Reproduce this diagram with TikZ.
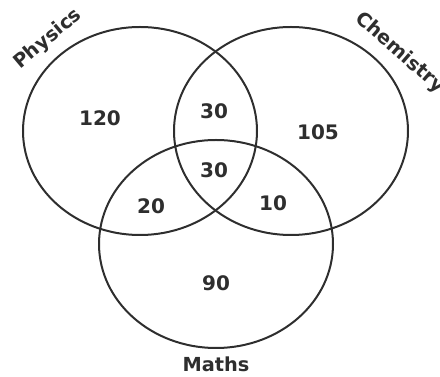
\documentclass[tikz,border=0pt]{standalone}
\usepackage{fontspec}
\setmainfont{DejaVu Sans}
\definecolor{VennInk}{HTML}{2E2E2E}
\tikzset{
  venn/.style={draw=VennInk,line width=1.5pt},
  count/.style={font=\bfseries\fontsize{15}{17}\selectfont,text=VennInk},
  setlabel/.style={font=\bfseries\fontsize{14.5}{16}\selectfont,text=VennInk}
}

\begin{document}
\begin{tikzpicture}[x=0.75pt,y=-0.75pt]
  \useasboundingbox (0,0) rectangle (440,377);
  % the three sets
  \draw[venn] (140,131) ellipse [x radius=117,y radius=104];
  \draw[venn] (291,131) ellipse [x radius=117,y radius=104];
  \draw[venn] (216,244) ellipse [x radius=117,y radius=104];

  \node[setlabel,rotate=40] (physics) at (48,39) {Physics};
  \node[setlabel,rotate=-41] (chemistry) at (400,53) {Chemistry};
  \node[setlabel] (maths) at (216,364) {Maths};

  \node[count] (p) at (100,118) {120};
  \node[count] (pc) at (214,111) {30};
  \node[count] (c) at (318,132) {105};
  \node[count] (pcm) at (214,170) {30};
  \node[count] (pm) at (151,206) {20};
  \node[count] (cm) at (273,203) {10};
  \node[count] (m) at (216,283) {90};
\end{tikzpicture}
\end{document}
